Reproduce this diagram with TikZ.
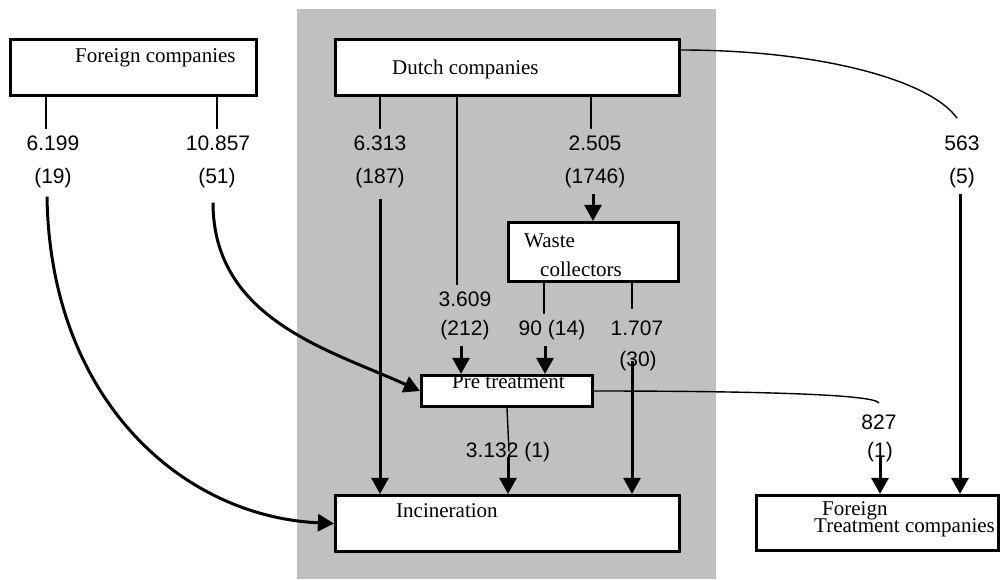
\documentclass[tikz,border=0pt]{standalone}
\usepackage{fontspec}
\setmainfont{Liberation Serif}
\setsansfont{Liberation Sans}
\usetikzlibrary{arrows.meta,calc}
\definecolor{bggray}{RGB}{192,192,192}
\begin{document}
\begin{tikzpicture}[x=1pt,y=-1pt,
  boxst/.style={draw,line width=3.2pt,fill=white,inner sep=0pt},
  serif/.style={font=\fontsize{21}{25}\selectfont\rmfamily,anchor=base west,inner sep=0pt},
  num/.style={font=\fontsize{21}{25}\selectfont\sffamily,anchor=base,inner xsep=1pt,inner ysep=6pt},
  thinline/.style={line width=1.4pt},
  arr/.style={line width=3pt,-{Triangle[width=17pt,length=16pt]}}]
\fill[bggray] (297,9) rectangle (716,579);
\useasboundingbox (0,0) rectangle (1003,579);

% boxes
\node[boxst,minimum width=246pt,minimum height=56pt] (fc) at (133.5,67.5) {};
\node[boxst,minimum width=344pt,minimum height=56pt] (dc) at (507.5,67.5) {};
\node[boxst,minimum width=170pt,minimum height=59pt] (wc) at (593.5,252) {};
\node[boxst,minimum width=171pt,minimum height=31pt] (pt) at (507,391) {};
\node[boxst,minimum width=344pt,minimum height=56pt] (inc) at (507.5,523.5) {};
\node[boxst,minimum width=242pt,minimum height=55pt] (ftc) at (877.5,523) {};

% box texts
\node[serif] (tfc) at (75,62) {Foreign companies};
\node[serif] (tdc) at (392,74) {Dutch companies};
\node[serif] (twc1) at (524,247) {Waste};
\node[serif] (twc2) at (540,276) {collectors};
\node[serif] (tpt) at (452,388) {Pre treatment};
\node[serif] (tinc) at (396,517) {Incineration};
\node[serif] (tftc1) at (822,515) {Foreign};
\node[serif] (tftc2) at (814,532) {Treatment companies};

% flow labels
\node[num] (n6199) at (53,150) {6.199};
\node[num] (c19) at (53,183) {(19)};
\node[num] (n10857) at (218,150) {10.857};
\node[num] (c51) at (217,183) {(51)};
\node[num] (n6313) at (380,150) {6.313};
\node[num] (c187) at (380,183) {(187)};
\node[num] (n2505) at (595,150) {2.505};
\node[num] (c1746) at (595,183) {(1746)};
\node[num] (n563) at (962,150) {563};
\node[num] (c5) at (962,183) {(5)};
\node[num] (n3609) at (465,306) {3.609};
\node[num] (c212) at (465,335) {(212)};
\node[num] (n90) at (552,335) {90 (14)};
\node[num] (n1707) at (637,335) {1.707};
\node[num] (c30) at (638,366) {(30)};
\node[num] (n3132) at (508,457) {3.132 (1)};
\node[num] (n827) at (879,429) {827};
\node[num] (c1) at (880,457) {(1)};

% foreign companies
\draw[thinline] ([xshift=-7pt]n6199.north |- fc.south) -- ([xshift=-7pt]n6199.north);
\draw[thinline] ([xshift=-1pt]n10857.north |- fc.south) -- ([xshift=-1pt]n10857.north);
\draw[arr] ([xshift=-6pt,yshift=-3pt]c19.south) .. controls +(3,203) and +(-152,-7) .. (inc.west);
\draw[arr] ([xshift=-4pt,yshift=-9pt]c51.south) .. controls +(0,117) and +(-90,-41) .. (pt.west);

% dutch companies
\draw[thinline] (dc.south -| n6313) -- (n6313.north);
\draw[arr] ([yshift=-5pt]c187.south) -- (c187.south |- inc.north);
\draw[thinline] ([xshift=-8pt]n3609.north |- dc.south) -- ([xshift=-8pt]n3609.north);
\draw[arr] ([xshift=-4pt]c212.south) -- ([xshift=-4pt]c212.south |- pt.north);
\draw[thinline] ([xshift=-4pt]n2505.north |- dc.south) -- ([xshift=-4pt]n2505.north);
\draw[arr] ([xshift=-2pt]c1746.south) -- ([xshift=-2pt]c1746.south |- wc.north);
\draw[thinline] ([yshift=17.5pt]dc.east) .. controls +(139,0) and +(-27,-38) .. ([xshift=-5pt,yshift=11pt]n563.north);
\draw[arr] ([xshift=-2pt]c5.south) -- ([xshift=-2pt]c5.south |- ftc.north);

% waste collectors
\draw[thinline] ([xshift=-8pt]n90.north |- wc.south) -- ([xshift=-8pt]n90.north);
\draw[arr] ([xshift=-7pt]n90.south) -- ([xshift=-7pt]n90.south |- pt.north);
\draw[thinline] ([xshift=-5pt]n1707.north |- wc.south) -- ([xshift=-5pt,yshift=5pt]n1707.north);
\draw[arr] ([xshift=-6pt]c30.center) -- ([xshift=-6pt]c30.center |- inc.north);

% pre treatment
\draw[thinline] (pt.south) -- ([xshift=1pt]n3132.center);
\draw[arr] (n3132.base) -- (n3132.base |- inc.north);
\draw[thinline] (pt.east) .. controls +(156,0) and +(-3,-9) .. ([yshift=5pt]n827.north);
\draw[arr] (c1.base) -- (c1.base |- ftc.north);
\end{tikzpicture}
\end{document}
